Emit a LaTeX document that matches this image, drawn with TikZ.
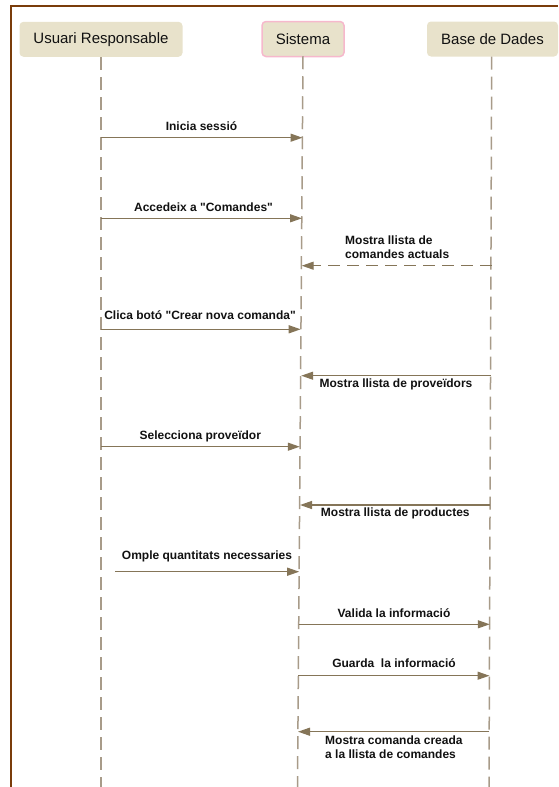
\documentclass[tikz,border=0pt]{standalone}
\usepackage{fontspec}
% plain family, so that " stays a straight quote
\newfontfamily\labfont{Liberation Sans}
\setmainfont{Liberation Sans}
\usetikzlibrary{arrows.meta}

\definecolor{framec}{HTML}{7A3C0A}
\definecolor{headfill}{HTML}{E8E2CB}
\definecolor{sysedge}{HTML}{F6B8CC}
\definecolor{lifec}{HTML}{A89B89}
\definecolor{msgc}{HTML}{857558}
\definecolor{txtc}{HTML}{111111}

\tikzset{
  header/.style={fill=headfill, rounded corners=4pt, minimum height=35pt,
    inner sep=0pt, text=txtc, font=\labfont\fontsize{15}{17}\selectfont},
  lifeline/.style={draw=lifec, line width=1.5pt, dash pattern=on 13pt off 7pt},
  msg/.style={draw=msgc, line width=1.3pt, -{Triangle[length=12pt,width=8pt]}},
  reply/.style={msg, dash pattern=on 12pt off 7pt},
  msglabel/.style={inner sep=0pt, text=txtc, align=left,
    font=\labfont\bfseries\fontsize{12}{14}\selectfont},
}

\begin{document}
\begin{tikzpicture}[x=1pt, y=-1pt]
  \useasboundingbox (0,0) rectangle (558,787);

  % frame
  \draw[framec, line width=2pt] (11,787) -- (11,5.5) -- (558,5.5);

  % participants
  \node[header, minimum width=163pt] (user) at (101,39.3) {Usuari Responsable};
  \node[header, minimum width=82pt, draw=sysedge, line width=1.5pt] (sys) at (303,39) {Sistema};
  \node[header, minimum width=131pt] (db) at (492.5,39) {Base de Dades};

  % lifelines
  \coordinate (userEnd) at (101,787);
  \coordinate (sysEnd) at (297.5,787);
  \coordinate (dbEnd) at (489,787);
  \draw[lifeline] (user.south) -- (userEnd);
  \draw[lifeline] ([yshift=1pt]sys.south) -- (sysEnd);
  \draw[lifeline] (db.south -| 491.7,0) -- (dbEnd);

  % message end points on the lifelines
  \coordinate (u1) at (101,137.7);   \coordinate (s1) at (302.5,137.7);
  \coordinate (u2) at (101,218.3);   \coordinate (s2) at (302,218.3);
  \coordinate (d3) at (491.5,265.7); \coordinate (s3) at (301.7,265.7);
  \coordinate (u4) at (101,329.3);   \coordinate (s4) at (300.7,329.3);
  \coordinate (d5) at (490.5,375.7); \coordinate (s5) at (301.2,375.7);
  \coordinate (u6) at (101,446.7);   \coordinate (s6) at (299.8,446.7);
  \coordinate (d7) at (490.2,505);   \coordinate (s7) at (300,505);
  \coordinate (u8) at (115,571.7);   \coordinate (s8) at (299.2,571.7);
  \coordinate (s9) at (298.5,624.3); \coordinate (d9) at (489.8,624.3);
  \coordinate (s10) at (298.2,675.7);\coordinate (d10) at (489.5,675.7);
  \coordinate (d11) at (489.3,731.7);\coordinate (s11) at (298,731.7);

  % messages
  \draw[msg] (u1) -- (s1);
  \node[msglabel] (l1) at (201.5,126) {Inicia sessió};

  \draw[msg] (u2) -- (s2);
  \node[msglabel] (l2) at (203.5,207.7) {Accedeix a "Comandes"};

  \draw[reply] (d3) -- (s3);
  \node[msglabel, anchor=west] (l3) at (345,247) {Mostra llista de\\comandes actuals};

  \draw[msg] (u4) -- (s4);
  \node[msglabel] (l4) at (200,315) {Clica botó "Crear nova comanda"};

  \draw[msg] (d5) -- (s5);
  \node[msglabel] (l5) at (396,384.3) {Mostra llista de proveïdors};

  \draw[msg] (u6) -- (s6);
  \node[msglabel] (l6) at (200.3,436) {Selecciona proveïdor};

  \draw[msg] (d7) -- (s7);
  \node[msglabel] (l7) at (395.3,513) {Mostra llista de productes};

  \draw[msg] (u8) -- (s8);
  \node[msglabel] (l8) at (207,556.7) {Omple quantitats necessaries};

  \draw[msg] (s9) -- (d9);
  \node[msglabel] (l9) at (394,612.7) {Valida la informació};

  \draw[msg] (s10) -- (d10);
  \node[msglabel] (l10) at (394,663.3) {Guarda\ \ la informació};

  \draw[msg] (d11) -- (s11);
  \node[msglabel, anchor=west] (l11) at (325,747) {Mostra comanda creada\\a la llista de comandes};
\end{tikzpicture}
\end{document}
